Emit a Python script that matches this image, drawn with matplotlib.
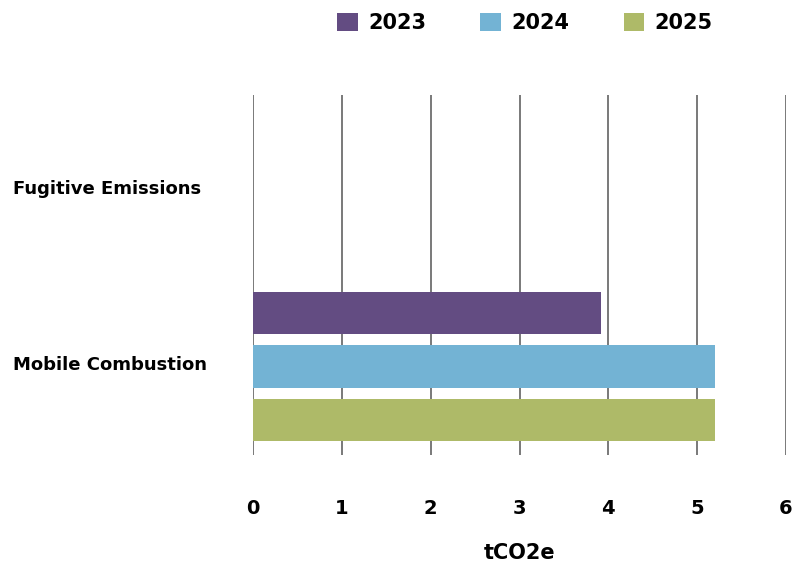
import numpy as np
import matplotlib.pyplot as plt
from matplotlib.patches import Patch

plt.rcParams['font.family'] = ['DejaVu Sans']

categories = ['Mobile Combustion', 'Fugitive Emissions']
years = ['2023', '2024', '2025']
values_2023 = [3.92, 0]
values_2024 = [5.2, 0]
values_2025 = [5.2, 0]
x_ticks = [0, 1, 2, 3, 4, 5, 6]

colors = ['#634C82', '#73B3D4', '#AEBA68']
series = [values_2023, values_2024, values_2025]

fig = plt.figure(figsize=(8.06, 5.62), dpi=100)
ax = fig.add_axes([0.3139, 0.1904, 0.6613, 0.6406])

y = np.arange(len(categories))
step = 0.304
shift = -0.02
offsets = [step + shift, shift, -step + shift]
for vals, off, c, lab in zip(series, offsets, colors, years):
    ax.barh(y + off, vals, height=0.239, color=c, label=lab, zorder=3)

ax.set_xlim(0, 6)
ax.set_ylim(-0.523, 1.523)
ax.set_xticks(x_ticks)
ax.set_xticklabels([str(t) for t in x_ticks], fontsize=14, fontweight='bold')
ax.set_yticks(y)
ax.set_yticklabels(categories, fontsize=13, fontweight='bold', ha='left')
ax.tick_params(axis='x', length=0, pad=32)
ax.tick_params(axis='y', length=0, pad=173)
ax.grid(axis='x', color='#6e6e6e', linewidth=1.3, zorder=0)
for s in ax.spines.values():
    s.set_visible(False)

ax.set_xlabel('tCO2e', fontsize=15, fontweight='bold', labelpad=18)

handles = [Patch(facecolor=c, label=l) for c, l in zip(colors, years)]
ax.legend(handles=handles, loc='center', bbox_to_anchor=(0.51, 1.0 + (95 - 23) / 360), ncol=3,
          frameon=False, prop={'size': 15, 'weight': 'bold'}, handlelength=1.0,
          handleheight=1.0, handletextpad=0.5, columnspacing=2.6)

fig.savefig('out.png', dpi=100)
